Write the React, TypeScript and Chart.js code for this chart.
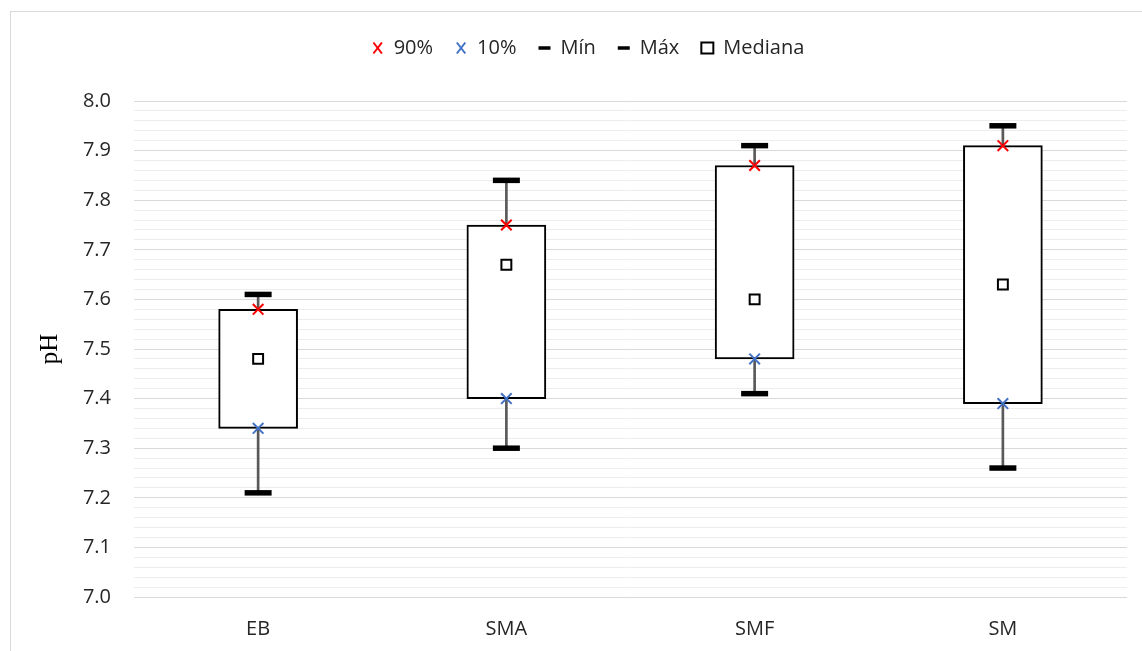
import React, { useEffect, useRef } from 'react';
import { Chart, registerables } from 'chart.js';

Chart.register(...registerables);

// ---- data ----
const categories = ['EB', 'SMA', 'SMF', 'SM'];
const minValues = [7.21, 7.3, 7.41, 7.26];
const maxValues = [7.61, 7.84, 7.91, 7.95];
const p10Values = [7.34, 7.4, 7.48, 7.39];
const p90Values = [7.58, 7.75, 7.87, 7.91];
const medianValues = [7.48, 7.67, 7.6, 7.63];
const seriesLabels = ['90%', '10%', 'Mín', 'Máx', 'Mediana'];
const yMin = 7.0;
const yMax = 8.0;
const yMinorStep = 0.02;

const FONT = "'Open Sans', 'Noto Sans', sans-serif";
const TEXT_COLOR = '#262626';
const LEGEND_HEIGHT = 85;

const isMajor = (v: number) => Math.abs(v * 10 - Math.round(v * 10)) < 1e-6;

const legendGap = {
  id: 'legendGap',
  beforeLayout(chart: any) {
    const lg = chart.legend;
    if (lg && !lg.__patched) {
      const fit = lg.fit.bind(lg);
      lg.fit = function () {
        fit();
        this.height = LEGEND_HEIGHT;
      };
      lg.__patched = true;
    }
  },
};

export default function App() {
  const ref = useRef<HTMLCanvasElement>(null);

  useEffect(() => {
    if (!ref.current) return;
    const boxData = categories.map((_, i) => [p10Values[i], p90Values[i]]);
    const whiskerData = categories.map((_, i) => [minValues[i], maxValues[i]]);

    const chart = new Chart(ref.current, {
      type: 'bar',
      data: {
        labels: categories,
        datasets: [
          {
            type: 'line',
            label: seriesLabels[0],
            data: p90Values,
            showLine: false,
            pointStyle: 'crossRot',
            pointRadius: 7.5,
            pointBorderWidth: 2,
            pointBorderColor: '#FF0000',
            pointBackgroundColor: '#FF0000',
            borderColor: '#FF0000',
            order: 0,
          } as any,
          {
            type: 'line',
            label: seriesLabels[1],
            data: p10Values,
            showLine: false,
            pointStyle: 'crossRot',
            pointRadius: 7.5,
            pointBorderWidth: 2,
            pointBorderColor: '#4472C4',
            pointBackgroundColor: '#4472C4',
            borderColor: '#4472C4',
            order: 1,
          },
          {
            type: 'line',
            label: seriesLabels[2],
            data: minValues,
            showLine: false,
            pointStyle: 'line',
            pointRadius: 13.5,
            pointBorderWidth: 5.5,
            pointBorderColor: '#000000',
            pointBackgroundColor: '#000000',
            borderColor: '#000000',
            order: 2,
          },
          {
            type: 'line',
            label: seriesLabels[3],
            data: maxValues,
            showLine: false,
            pointStyle: 'line',
            pointRadius: 13.5,
            pointBorderWidth: 5.5,
            pointBorderColor: '#000000',
            pointBackgroundColor: '#000000',
            borderColor: '#000000',
            order: 3,
          },
          {
            type: 'line',
            label: seriesLabels[4],
            data: medianValues,
            showLine: false,
            pointStyle: 'rect',
            pointRadius: 7,
            pointBorderWidth: 2,
            pointBorderColor: '#000000',
            pointBackgroundColor: '#FFFFFF',
            borderColor: '#000000',
            order: 4,
          },
          {
            type: 'bar',
            label: 'box',
            data: boxData as any,
            backgroundColor: '#FFFFFF',
            borderColor: '#000000',
            borderWidth: 2,
            borderSkipped: false,
            barThickness: 79,
            grouped: false,
            order: 5,
          },
          {
            type: 'bar',
            label: 'whisker',
            data: whiskerData as any,
            backgroundColor: '#595959',
            borderWidth: 0,
            barThickness: 2,
            grouped: false,
            order: 6,
          },
        ],
      },
      options: {
        animation: false,
        responsive: true,
        maintainAspectRatio: false,
        events: [],
        layout: { padding: { top: 4, left: 38, right: 38, bottom: 0 } },
        plugins: {
          tooltip: { enabled: false },
          legend: {
            position: 'top',
            labels: {
              usePointStyle: true,
              pointStyleWidth: 12,
              boxHeight: 11,
              padding: 22,
              color: TEXT_COLOR,
              font: { family: FONT, size: 20 },
              filter: (item: any) => item.datasetIndex <= 4,
              generateLabels: (chart: any) => {
                const base = (Chart.defaults.plugins.legend.labels as any).generateLabels(chart);
                return base.map((l: any) =>
                  l.datasetIndex === 2 || l.datasetIndex === 3 ? { ...l, lineWidth: 3.5 } : l
                );
              },
            },
          },
        },
        scales: {
          x: {
            type: 'category',
            offset: true,
            grid: { display: false },
            border: { display: false },
            ticks: {
              color: TEXT_COLOR,
              font: { family: FONT, size: 20 },
              padding: 12,
            },
            afterFit: (scale: any) => {
              scale.height = 54;
            },
          },
          y: {
            type: 'linear',
            min: yMin,
            max: yMax,
            border: { display: false },
            grid: {
              drawTicks: false,
              color: (ctx: any) => (ctx.tick && isMajor(ctx.tick.value) ? '#D9D9D9' : '#EDEDED'),
              lineWidth: 1,
            },
            ticks: {
              stepSize: yMinorStep,
              autoSkip: false,
              padding: 23,
              color: TEXT_COLOR,
              font: { family: FONT, size: 20 },
              callback: (v: any) => (isMajor(Number(v)) ? Number(v).toFixed(1) : ''),
            },
            title: {
              display: true,
              text: 'pH',
              color: '#000000',
              font: { family: "'Liberation Serif', 'Times New Roman', serif", size: 25 },
              padding: { top: -14, bottom: 0 },
            },
            afterFit: (scale: any) => {
              scale.width = 85;
            },
          },
        },
      },
      plugins: [legendGap],
    } as any);

    return () => chart.destroy();
  }, []);

  return (
    <div
      style={{
        position: 'fixed',
        left: 0,
        top: 0,
        width: 1142,
        height: 651,
        overflow: 'hidden',
        background: '#FFFFFF',
      }}
    >
      <div
        style={{
          position: 'absolute',
          left: 10,
          top: 11,
          width: 1170,
          height: 700,
          border: '1px solid #D9D9D9',
          boxSizing: 'border-box',
        }}
      />
      <div style={{ position: 'absolute', left: 11, top: 12, width: 1154, height: 639 }}>
        <canvas ref={ref} />
      </div>
    </div>
  );
}
